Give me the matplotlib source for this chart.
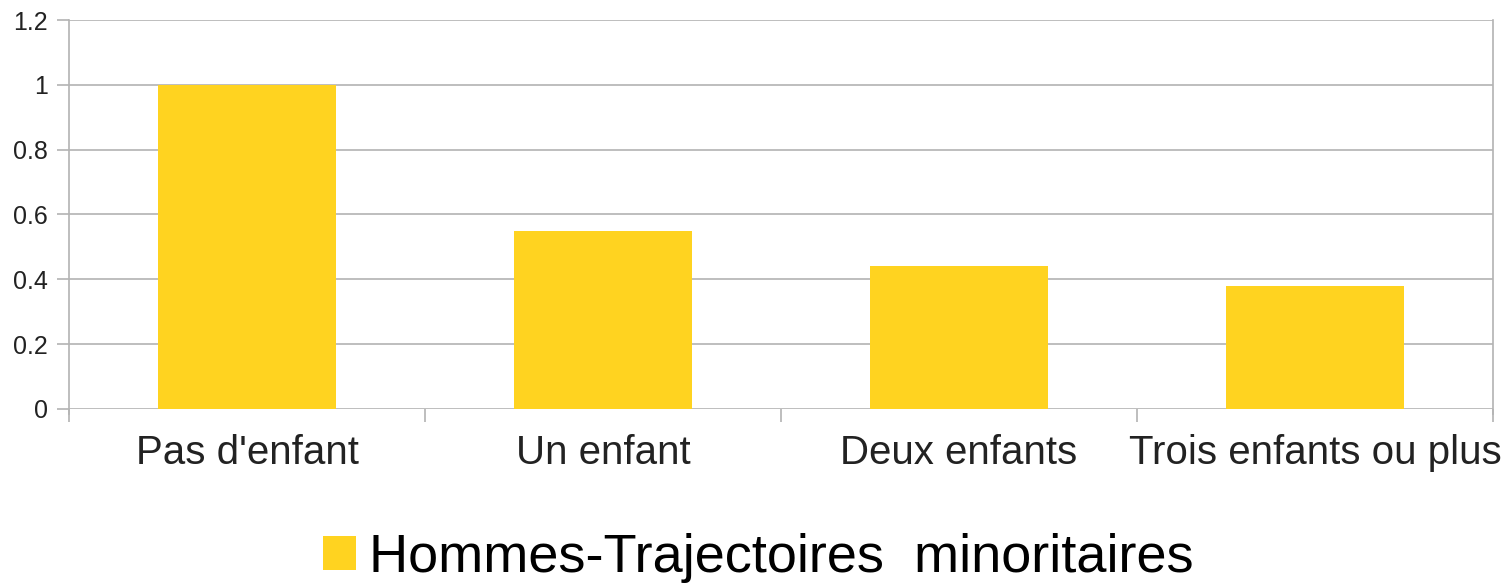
import matplotlib

matplotlib.use("Agg")

import matplotlib.pyplot as plt
import numpy as np
from matplotlib.patches import Patch

categories = ["Pas d'enfant", "Un enfant", "Deux enfants", "Trois enfants ou plus"]
values = [1.0, 0.55, 0.44, 0.38]
series_name = "Hommes-Trajectoires  minoritaires"
y_ticks = [0, 0.2, 0.4, 0.6, 0.8, 1, 1.2]
y_tick_labels = ["0", "0.2", "0.4", "0.6", "0.8", "1", "1.2"]

BAR_COLOR = "#FFD320"
GRID_COLOR = "#b3b3b3"

plt.rcParams["font.family"] = ["Liberation Sans", "DejaVu Sans"]

fig = plt.figure(figsize=(15.08, 5.85), dpi=100)
ax = fig.add_axes([0.0458, 0.3009, 0.9443, 0.6649])

x = np.arange(len(categories))
ax.bar(x, values, width=0.5, color=BAR_COLOR, zorder=2)

ax.set_xlim(-0.5, len(categories) - 0.5)
ax.set_ylim(0, 1.2)
ax.set_yticks(y_ticks)
ax.set_yticklabels(y_tick_labels, fontsize=18, color="#222222")
ax.yaxis.grid(True, color=GRID_COLOR, linewidth=1.2, zorder=0)
ax.tick_params(axis="y", length=9, width=1.2, color=GRID_COLOR, pad=6)

# category boundaries as major ticks, labels on minor ticks
ax.set_xticks(np.arange(len(categories) + 1) - 0.5)
ax.set_xticklabels([])
ax.tick_params(axis="x", which="major", length=9, width=1.2, color=GRID_COLOR)
ax.set_xticks(x, minor=True)
ax.set_xticklabels(categories, minor=True, fontsize=29, color="#222222")
ax.tick_params(axis="x", which="minor", length=0, pad=18)

for side in ["top", "bottom"]:
    ax.spines[side].set_visible(False)
for side in ["left", "right"]:
    ax.spines[side].set_color(GRID_COLOR)
    ax.spines[side].set_linewidth(1.2)
ax.spines["left"].set_bounds(-0.015, 1.2)
ax.spines["right"].set_bounds(-0.015, 1.2)

handle = Patch(facecolor=BAR_COLOR, edgecolor="none")
fig.legend([handle], [series_name], loc="center", bbox_to_anchor=(0.503, 0.046),
           frameon=False, fontsize=39, handlelength=0.6, handleheight=0.6,
           handletextpad=0.25, borderpad=0)

fig.savefig("out.png", dpi=100)
